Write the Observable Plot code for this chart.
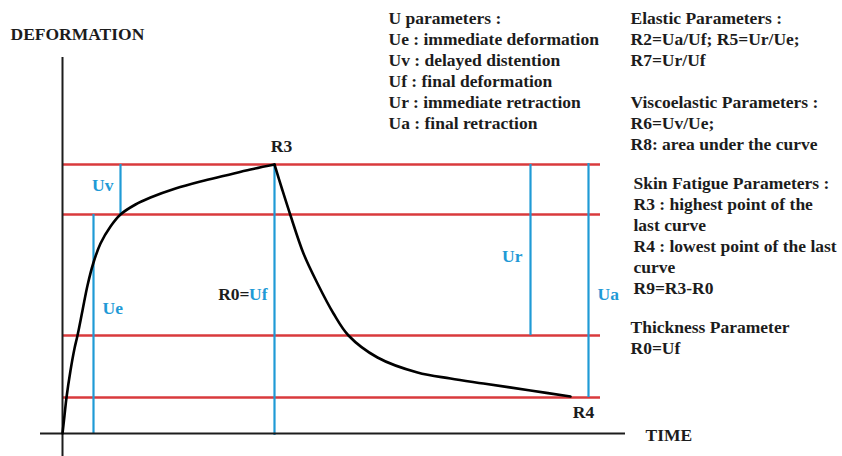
<!DOCTYPE html>
<html>
<head>
<meta charset="utf-8">
<script src="https://cdn.jsdelivr.net/npm/d3@7"></script>
<script src="https://cdn.jsdelivr.net/npm/@observablehq/plot@0.6"></script>
<style>
  html, body { margin: 0; padding: 0; background: #fff; }
  #chart svg { display: block; }
</style>
</head>
<body>
<div id="chart"></div>
<script>
// ---- data (time / deformation, arbitrary units) ----
const riseTime = [0, 2, 4, 8, 12, 15, 20, 25, 31, 38, 48, 58, 73, 88, 113, 138, 163, 188, 212];
const riseDef  = [0, 18, 36, 63, 85, 98, 123, 148, 171, 190, 207, 219, 229, 236, 245, 252, 258, 264, 269];
const decayTime = [212, 220, 228, 241, 255, 271, 286, 315, 355, 388, 421, 468, 508];
const decayDef  = [269, 243, 218, 180, 150, 120, 98, 76, 61, 55, 50, 43, 37];

const levelNames = ["Uf", "Ue", "Uf-Ur", "Uf-Ua"];
const levelValues = [269, 219, 98, 36];
const levelSpan = [0, 538];

const segNames = ["Uv", "Ue", "Uf", "Ur", "Ua"];
const segTime = [58, 31, 212, 468, 526];
const segFrom = [219, 0, -2, 98, 36];
const segTo   = [269, 219, 269, 269, 270];

const timeAxisSpan = [-22, 563];
const defAxisSpan = [-23, 376];

const uParams = ["U parameters :", "Ue : immediate deformation", "Uv : delayed distention",
  "Uf : final deformation", "Ur : immediate retraction", "Ua : final retraction"];
const elasticParams = ["Elastic Parameters :", "R2=Ua/Uf; R5=Ur/Ue;", "R7=Ur/Uf", "",
  "Viscoelastic Parameters :", "R6=Uv/Ue;", "R8: area under the curve"];
const fatigueParams = ["Skin Fatigue Parameters :", "R3 : highest point of the", "last curve",
  "R4 : lowest point of the last", "curve", "R9=R3-R0"];
const thicknessParams = ["Thickness Parameter", "R0=Uf"];

// ---- build tables ----
const curve = [
  ...riseTime.map((t, i) => ({t, d: riseDef[i], part: "rise"})),
  ...decayTime.map((t, i) => ({t, d: decayDef[i], part: "decay"}))
];
const levels = levelValues.map((d, i) => ({name: levelNames[i], d}));
const segs = segNames.map((name, i) => ({name, t: segTime[i], y1: segFrom[i], y2: segTo[i], mid: (segFrom[i] + segTo[i]) / 2}));
const seg = n => segs.filter(s => s.name === n);
const peak = [{t: riseTime[riseTime.length - 1], d: riseDef[riseDef.length - 1]}];
const trough = [{t: decayTime[decayTime.length - 1], d: decayDef[decayDef.length - 1]}];

const RED = "#d93a3c", BLUE = "#1f9ad6", INK = "#1c1c1c";
const FONT = "Liberation Serif, Times New Roman, serif";
const FS = 17.5;
const LH = 21 / FS;

const txt = (lines, dx, dy, fill = INK) => Plot.text([lines.join("\n")], {
  text: d => d, frameAnchor: "top-left", textAnchor: "start", lineAnchor: "top",
  lineHeight: LH, dx, dy, fill, fontSize: FS, fontWeight: "bold", fontFamily: FONT
});
const lbl = (data, opts) => Plot.text(data, {fontSize: FS, fontWeight: "bold", fontFamily: FONT, ...opts});

const chart = Plot.plot({
  width: 842, height: 456,
  marginTop: 0, marginRight: 0, marginBottom: 0, marginLeft: 0,
  x: {domain: [-62, 780], axis: null},
  y: {domain: [-23, 433], axis: null},
  style: {background: "#fff"},
  marks: [
    // red reference levels
    Plot.ruleY(levels, {y: "d", x1: levelSpan[0], x2: levelSpan[1], stroke: RED, strokeWidth: 2.5}),
    // blue distance markers
    Plot.ruleX(segs, {x: "t", y1: "y1", y2: "y2", stroke: BLUE, strokeWidth: 2.2}),
    // axes
    Plot.ruleX([0], {y1: defAxisSpan[0], y2: defAxisSpan[1], stroke: INK, strokeWidth: 2}),
    Plot.ruleY([0], {x1: timeAxisSpan[0], x2: timeAxisSpan[1], stroke: INK, strokeWidth: 2}),
    // curve
    Plot.line(curve, {x: "t", y: "d", z: "part", curve: "catmull-rom", stroke: "#000", strokeWidth: 2.6}),
    // segment labels
    lbl(seg("Uv"), {x: "t", y: "mid", text: "name", fill: BLUE, textAnchor: "end", dx: -7, dy: -4}),
    lbl(seg("Ue"), {x: "t", y: "mid", text: "name", fill: BLUE, textAnchor: "start", dx: 9, dy: -16}),
    lbl(seg("Uf"), {x: "t", y: "mid", text: "name", fill: BLUE, textAnchor: "end", dx: -7, dy: -6}),
    lbl(seg("Uf"), {x: "t", y: "mid", text: () => "R0=", fill: INK, textAnchor: "end", dx: -25, dy: -6}),
    lbl(seg("Ur"), {x: "t", y: "mid", text: "name", fill: BLUE, textAnchor: "end", dx: -8, dy: 6}),
    lbl(seg("Ua"), {x: "t", y: "mid", text: "name", fill: BLUE, textAnchor: "start", dx: 9, dy: 14}),
    // R3 / R4
    lbl(peak, {x: "t", y: "d", text: () => "R3", fill: INK, dx: 7, dy: -18}),
    lbl(trough, {x: "t", y: "d", text: () => "R4", fill: INK, dx: 13, dy: 16}),
    // axis titles
    lbl([0], {frameAnchor: "top-left", text: () => "DEFORMATION", textAnchor: "start", lineAnchor: "middle", dx: 10, dy: 34, fill: INK}),
    lbl([0], {frameAnchor: "top-left", text: () => "TIME", textAnchor: "start", lineAnchor: "middle", dx: 645, dy: 435, fill: INK}),
    // parameter notes
    txt(uParams, 388, 9),
    txt(elasticParams, 630, 9),
    txt(fatigueParams, 633, 174),
    txt(thicknessParams, 630, 318)
  ]
});
document.getElementById("chart").appendChild(chart);
</script>
</body>
</html>
